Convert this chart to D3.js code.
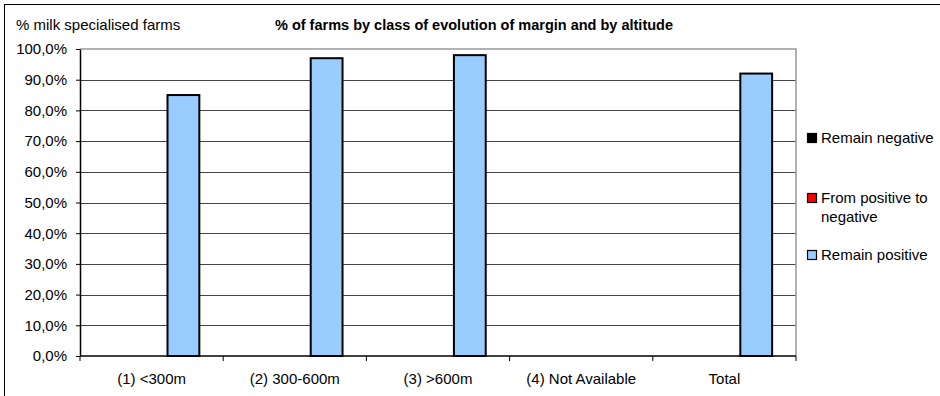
<!DOCTYPE html>
<html>
<head>
<meta charset="utf-8">
<script src="https://cdn.jsdelivr.net/npm/d3@7"></script>
<style>
  body { margin: 0; background: #fff; }
  text { font-family: "Liberation Sans", Arial, sans-serif; }
</style>
</head>
<body>
<div id="chart"></div>
<script>
(function (d3) {
  'use strict';

// categories on the x axis
const categories = ["(1) <300m", "(2) 300-600m", "(3) >600m", "(4) Not Available", "Total"];
// series (in draw order) and their values
const seriesNames = ["Remain negative", "From positive to negative", "Remain positive"];
const remainNegative = [0, 0, 0, 0, 0];
const posToNeg = [0, 0, 0, 0, 0];
const remainPositive = [0.85, 0.97, 0.98, 0, 0.92];
const yTicks = [0, 0.1, 0.2, 0.3, 0.4, 0.5, 0.6, 0.7, 0.8, 0.9, 1.0];
const colors = ["#000000", "#ff0000", "#99ccff"];

const W = 940, H = 396;
const margin = {top: 49, right: 144, bottom: 40, left: 80};
const width = W - margin.left - margin.right,
      height = 356 - margin.top;

const svg = d3.select("#chart")
  .append("svg")
    .attr("width", W)
    .attr("height", H);

// chart area border (only top and left visible)
svg.append("rect")
  .attr("x", 4.5).attr("y", 4.5)
  .attr("width", W).attr("height", H)
  .attr("fill", "none")
  .attr("stroke", "#000");

const g = svg.append("g")
  .attr("transform", `translate(${margin.left},${margin.top})`);

const x = d3.scaleBand()
  .domain(categories)
  .range([0, width]);

// excel gap width 150% -> 3 bars + 1.5 gap per band
const xSub = d3.scaleBand()
  .domain(seriesNames)
  .range([x.bandwidth() * 0.75 / 4.5, x.bandwidth() - x.bandwidth() * 0.75 / 4.5]);

const y = d3.scaleLinear()
  .domain([0, 1])
  .range([height, 0]);

// gridlines
g.append("g")
  .selectAll("line")
  .data(yTicks.slice(1, -1))
  .join("line")
    .attr("x1", 0).attr("x2", width)
    .attr("y1", d => Math.round(y(d)) + 0.5)
    .attr("y2", d => Math.round(y(d)) + 0.5)
    .attr("stroke", "#444")
    .attr("stroke-width", 1);

// plot area top and right border
g.append("path")
  .attr("d", `M0,${y(1)}H${width}V${height}`)
  .attr("fill", "none")
  .attr("stroke", "#999")
  .attr("stroke-width", 1.5);

// bars
const data = categories.map((c, i) => ({
  cat: c,
  values: [remainNegative[i], posToNeg[i], remainPositive[i]]
}));

g.append("g")
  .selectAll("g")
  .data(data)
  .join("g")
    .attr("transform", d => `translate(${x(d.cat)},0)`)
  .selectAll("rect")
  .data(d => d.values.map((v, k) => ({key: seriesNames[k], value: v, k: k})).filter(e => e.value > 0))
  .join("rect")
    .attr("x", d => xSub(d.key))
    .attr("y", d => y(d.value))
    .attr("width", xSub.bandwidth())
    .attr("height", d => height - y(d.value))
    .attr("fill", d => colors[d.k])
    .attr("stroke", "#000")
    .attr("stroke-width", 2);

// y axis
const yAxis = g.append("g")
  .call(d3.axisLeft(y).tickValues(yTicks).tickSize(4).tickSizeOuter(0)
    .tickFormat(d => d3.format(".1%")(d).replace(".", ",")));
yAxis.select(".domain").attr("stroke", "#000").attr("stroke-width", 1.5);
yAxis.selectAll("text").attr("font-size", 15).attr("fill", "#000").attr("x", -13)
  .attr("font-family", "Liberation Sans, Arial, sans-serif");

// x axis
const tickPos = categories.map(c => x(c)).concat([width]);
const xAxis = g.append("g")
  .attr("transform", `translate(0,${height})`);
xAxis.append("line")
  .attr("x1", 0).attr("x2", width)
  .attr("stroke", "#000").attr("stroke-width", 1.5);
xAxis.selectAll(".tk")
  .data(tickPos)
  .join("line")
    .attr("class", "tk")
    .attr("x1", d => d).attr("x2", d => d)
    .attr("y1", 0).attr("y2", 5)
    .attr("stroke", "#000");
xAxis.selectAll(".lbl")
  .data(categories)
  .join("text")
    .attr("class", "lbl")
    .attr("x", d => x(d) + x.bandwidth() / 2)
    .attr("y", 28)
    .attr("text-anchor", "middle")
    .attr("font-size", 15)
    .text(d => d);

// titles
svg.append("text")
  .attr("x", 16).attr("y", 30)
  .attr("font-size", 15)
  .text("% milk specialised farms");
svg.append("text")
  .attr("x", 474).attr("y", 30)
  .attr("text-anchor", "middle")
  .attr("font-size", 14.5)
  .attr("font-weight", "bold")
  .text("% of farms by class of evolution of margin and by altitude");

// legend
const legendRows = [
  {k: 0, lines: ["Remain negative"], y: 138},
  {k: 1, lines: ["From positive to", "negative"], y: 198},
  {k: 2, lines: ["Remain positive"], y: 255}
];
const lg = svg.append("g");
legendRows.forEach(r => {
  lg.append("rect")
    .attr("x", 807.5).attr("y", r.y - 4.5)
    .attr("width", 9).attr("height", 9)
    .attr("fill", colors[r.k])
    .attr("stroke", "#000")
    .attr("stroke-width", 1.2);
  r.lines.forEach((t, i) => {
    lg.append("text")
      .attr("x", 821).attr("y", r.y + 5 + i * 19)
      .attr("font-size", 15)
      .text(t);
  });
});

}(d3));
</script>
</body>
</html>
